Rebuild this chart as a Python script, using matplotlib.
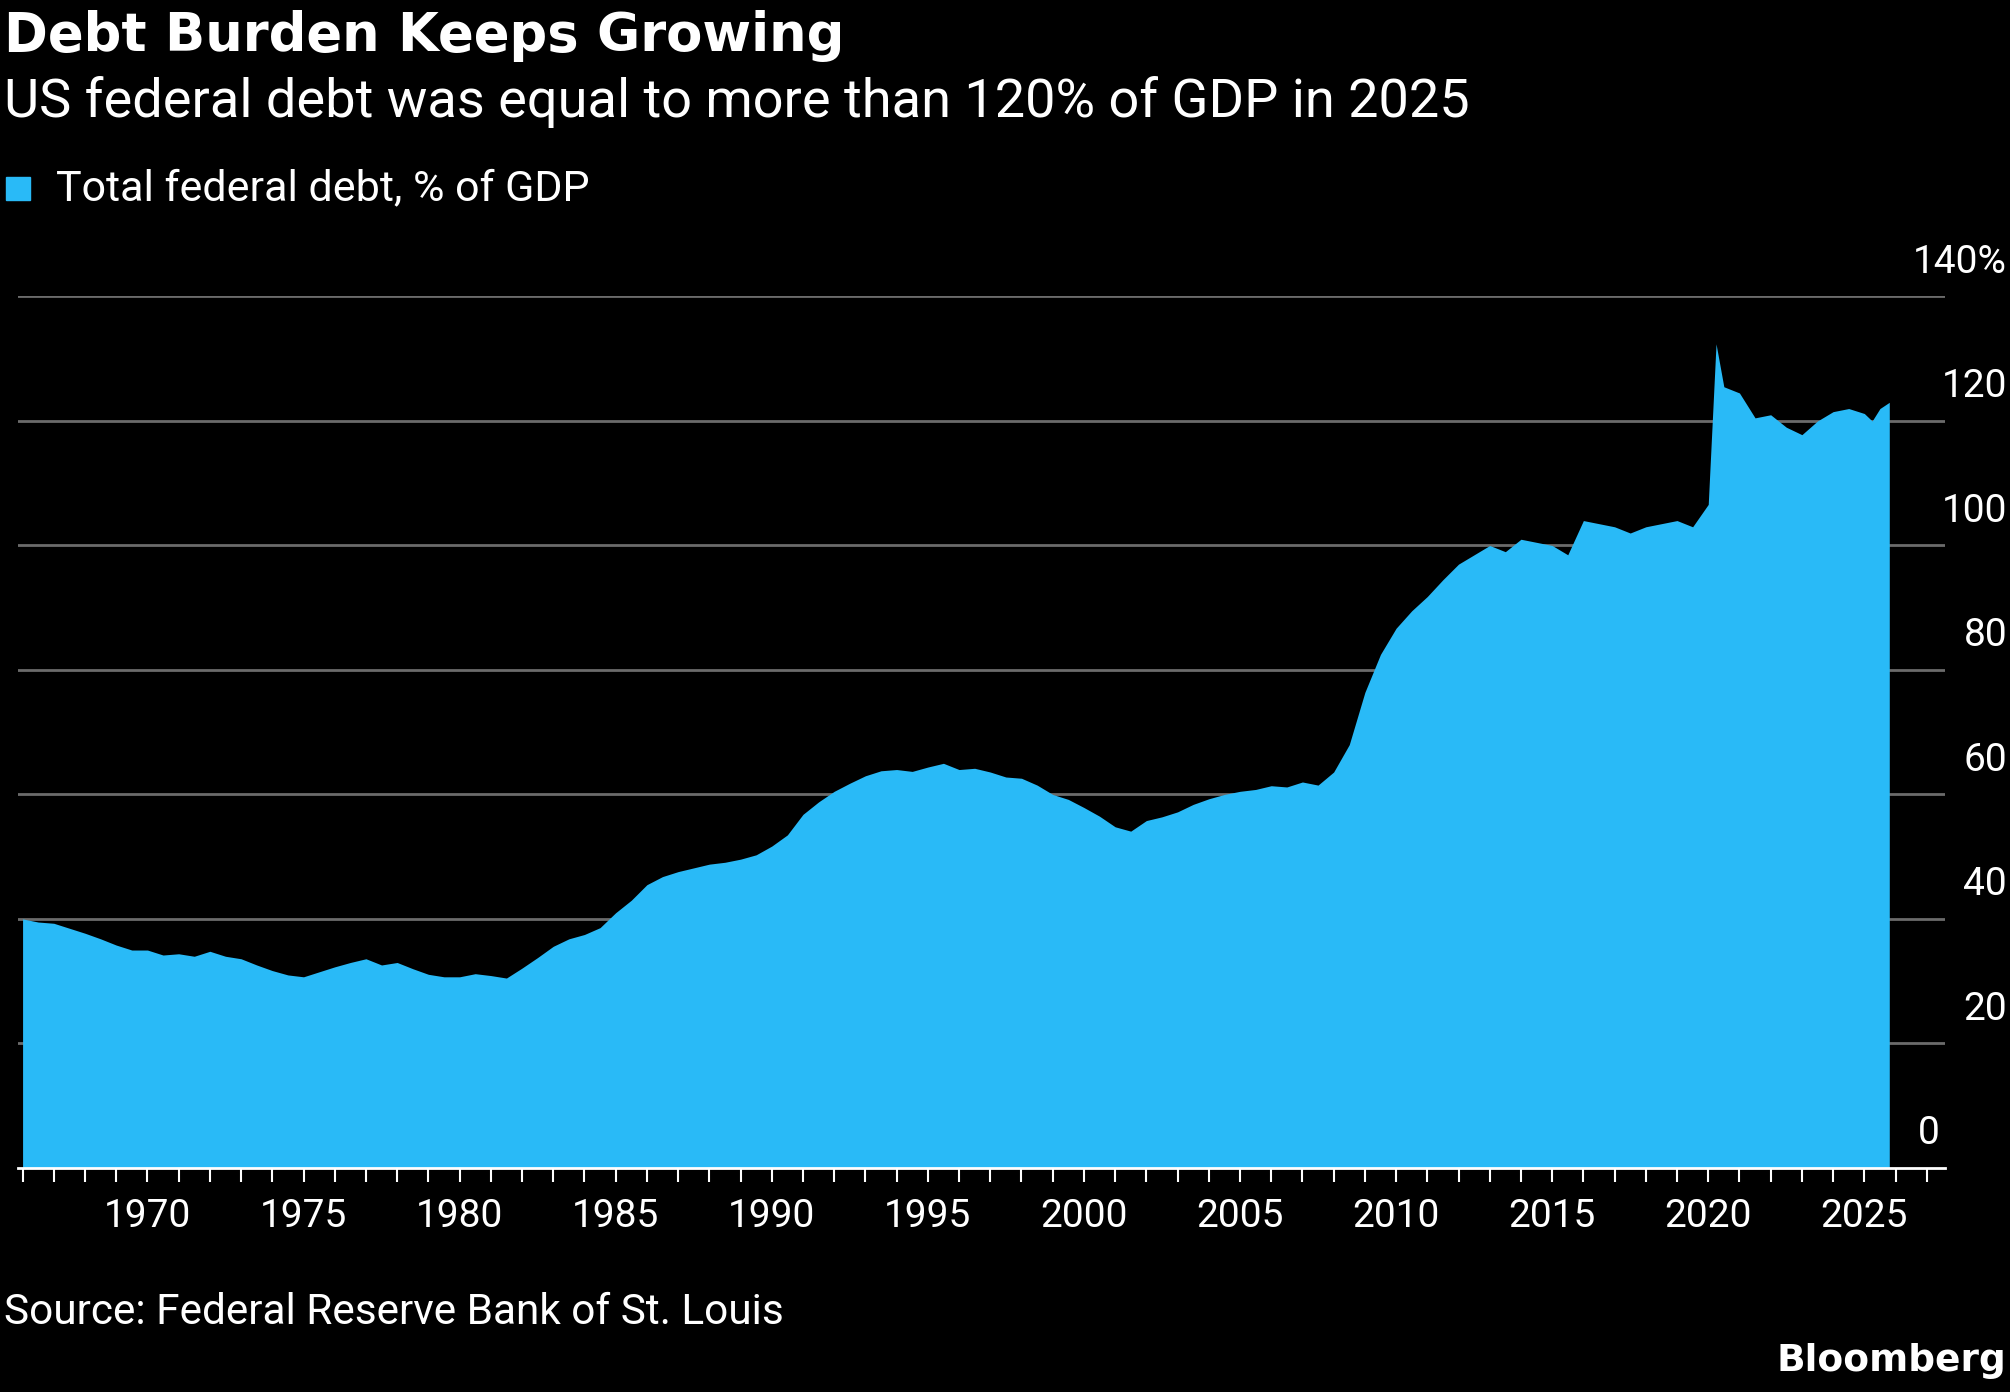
import matplotlib
matplotlib.use("Agg")
import matplotlib.pyplot as plt
from matplotlib.ticker import MultipleLocator

# ==================================================
# Data
# ==================================================
years = [1966.0, 1966.5, 1967.0, 1967.5, 1968.0, 1968.5, 1969.0, 1969.5, 1970.0, 1970.5,
         1971.0, 1971.5, 1972.0, 1972.5, 1973.0, 1973.5, 1974.0, 1974.5, 1975.0, 1975.5,
         1976.0, 1976.5, 1977.0, 1977.5, 1978.0, 1978.5, 1979.0, 1979.5, 1980.0, 1980.5,
         1981.0, 1981.5, 1982.0, 1982.5, 1983.0, 1983.5, 1984.0, 1984.5, 1985.0, 1985.5,
         1986.0, 1986.5, 1987.0, 1987.5, 1988.0, 1988.5, 1989.0, 1989.5, 1990.0, 1990.5,
         1991.0, 1991.5, 1992.0, 1992.5, 1993.0, 1993.5, 1994.0, 1994.5, 1995.0, 1995.5,
         1996.0, 1996.5, 1997.0, 1997.5, 1998.0, 1998.5, 1999.0, 1999.5, 2000.0, 2000.5,
         2001.0, 2001.5, 2002.0, 2002.5, 2003.0, 2003.5, 2004.0, 2004.5, 2005.0, 2005.5,
         2006.0, 2006.5, 2007.0, 2007.5, 2008.0, 2008.5, 2009.0, 2009.5, 2010.0, 2010.5,
         2011.0, 2011.5, 2012.0, 2012.5, 2013.0, 2013.5, 2014.0, 2014.5, 2015.0, 2015.5,
         2016.0, 2016.5, 2017.0, 2017.5, 2018.0, 2018.5, 2019.0, 2019.5, 2020.0, 2020.25,
         2020.5, 2021.0, 2021.5, 2022.0, 2022.5, 2023.0, 2023.5, 2024.0, 2024.5, 2025.0,
         2025.25, 2025.5, 2025.8]
debt_pct = [40.0, 39.5, 39.3, 38.5, 37.7, 36.8, 35.8, 35.0, 35.0, 34.2,
            34.4, 34.0, 34.8, 34.0, 33.6, 32.6, 31.7, 31.0, 30.7, 31.5,
            32.3, 33.0, 33.6, 32.6, 33.0, 32.0, 31.1, 30.7, 30.7, 31.2,
            30.9, 30.5, 32.1, 33.8, 35.6, 36.8, 37.5, 38.6, 41.0, 43.0,
            45.5, 46.8, 47.6, 48.2, 48.8, 49.1, 49.6, 50.3, 51.7, 53.5,
            56.8, 58.8, 60.5, 61.8, 63.0, 63.8, 64.0, 63.7, 64.4, 65.0,
            64.0, 64.2, 63.6, 62.8, 62.6, 61.5, 60.0, 59.2, 57.9, 56.5,
            54.8, 54.1, 55.8, 56.4, 57.2, 58.4, 59.3, 60.0, 60.5, 60.8,
            61.4, 61.2, 62.0, 61.5, 63.6, 68.0, 76.4, 82.5, 86.7, 89.5,
            91.8, 94.5, 97.0, 98.5, 100.0, 99.0, 101.0, 100.5, 100.0, 98.5,
            104.0, 103.5, 103.0, 102.0, 103.0, 103.5, 104.0, 103.0, 106.6, 132.4,
            125.5, 124.5, 120.5, 121.0, 119.0, 117.8, 120.0, 121.5, 122.0, 121.2,
            120.0, 122.0, 123.0]

y_ticks = [0, 20, 40, 60, 80, 100, 120, 140]
x_ticks = [1970, 1975, 1980, 1985, 1990, 1995, 2000, 2005, 2010, 2015, 2020, 2025]

TITLE = "Debt Burden Keeps Growing"
SUBTITLE = "US federal debt was equal to more than 120% of GDP in 2025"
LEGEND = "Total federal debt, % of GDP"
SOURCE = "Source: Federal Reserve Bank of St. Louis"

BLUE = "#29BAF7"
plt.rcParams["font.family"] = ["Roboto", "DejaVu Sans"]

fig = plt.figure(figsize=(20.1, 13.92), dpi=100, facecolor="black")
ax = fig.add_axes([0.0089, 0.161, 0.959, 0.626], facecolor="black")

ax.fill_between(years, debt_pct, 0, color=BLUE, linewidth=0)
ax.set_xlim(1965.85, 2027.6)
ax.set_ylim(0, 140)

for v in y_ticks[1:]:
    ax.axhline(v, color="#6b6b6b", linewidth=2, zorder=0)
    lbl = f"{v}%" if v == 140 else str(v)
    ax.text(1.032, v + 2.5, lbl, transform=ax.get_yaxis_transform(), ha="right",
            va="bottom", color="white", fontsize=28)
ax.text(0.997, 2.5, "0", transform=ax.get_yaxis_transform(), ha="right",
        va="bottom", color="white", fontsize=28)

for s in ["top", "right", "left"]:
    ax.spines[s].set_visible(False)
ax.spines["bottom"].set_color("white")
ax.spines["bottom"].set_linewidth(2)
ax.set_yticks([])
ax.set_xticks(x_ticks)
ax.xaxis.set_minor_locator(MultipleLocator(1))
ax.tick_params(axis="x", which="both", colors="white", length=10, width=1.5,
               labelsize=28, pad=12)

fig.text(0.002, 0.974, TITLE, color="white", fontsize=38, fontweight="bold",
         va="center", family=["DejaVu Sans"])
fig.text(0.002, 0.927, SUBTITLE, color="white", fontsize=39, va="center")
fig.patches.append(plt.Rectangle((0.003, 0.856), 0.012, 0.017, transform=fig.transFigure,
                                 color=BLUE, figure=fig))
fig.text(0.028, 0.864, LEGEND, color="white", fontsize=31, va="center")
fig.text(0.002, 0.057, SOURCE, color="white", fontsize=30.5, va="center")
fig.text(0.998, 0.022, "Bloomberg", color="white", fontsize=27, fontweight="bold",
         ha="right", va="center", family=["DejaVu Sans"])

plt.savefig("out.png", dpi=100, facecolor="black")
